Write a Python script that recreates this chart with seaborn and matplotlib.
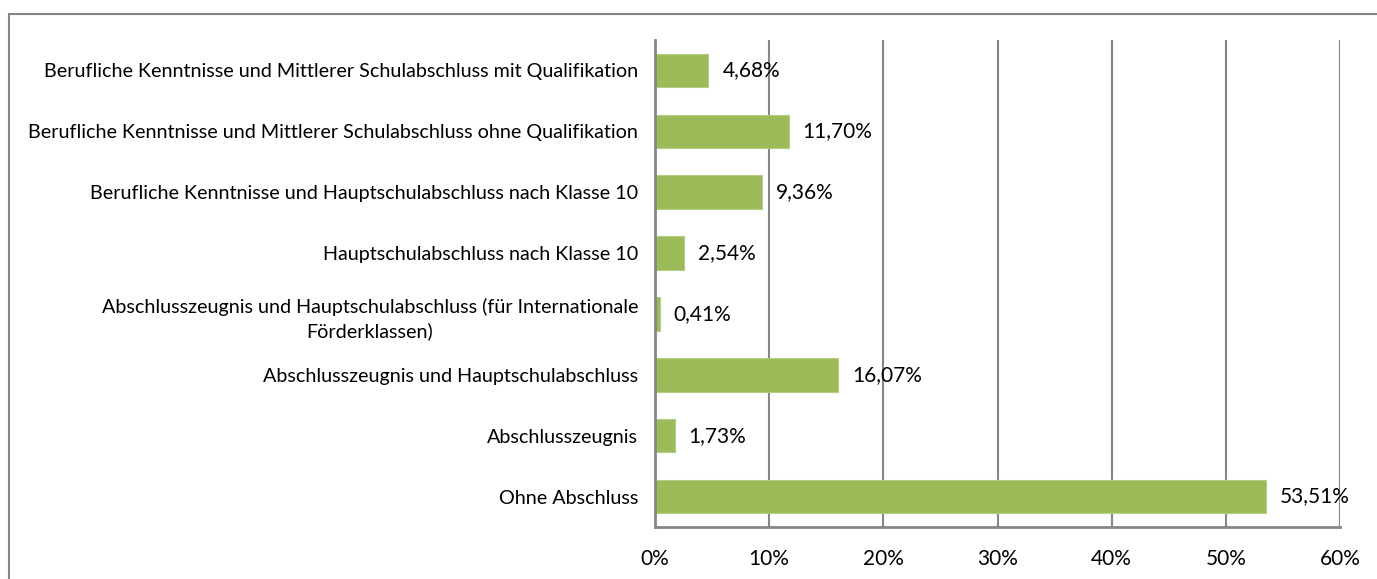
import numpy as np
import pandas as pd
import seaborn as sns
import matplotlib.pyplot as plt
from matplotlib.patches import Rectangle
from matplotlib.ticker import MultipleLocator, FixedLocator, PercentFormatter

categories = [
    "Berufliche Kenntnisse und Mittlerer Schulabschluss mit Qualifikation",
    "Berufliche Kenntnisse und Mittlerer Schulabschluss ohne Qualifikation",
    "Berufliche Kenntnisse und Hauptschulabschluss nach Klasse 10",
    "Hauptschulabschluss nach Klasse 10",
    "Abschlusszeugnis und Hauptschulabschluss (für Internationale\nFörderklassen)",
    "Abschlusszeugnis und Hauptschulabschluss",
    "Abschlusszeugnis",
    "Ohne Abschluss",
]
values = [4.68, 11.70, 9.36, 2.54, 0.41, 16.07, 1.73, 53.51]

W, H = 1377, 579
sns.set_style("white")
plt.rcParams['font.family'] = ['Lato', 'DejaVu Sans']

df = pd.DataFrame({"cat": categories, "val": values})

fig = plt.figure(figsize=(W / 100, H / 100), dpi=100)
ax = fig.add_axes([655 / W, 52 / H, (1340 - 655) / W, (527 - 40) / H])

sns.barplot(data=df, x="val", y="cat", orient="h", color="#9BBB59",
            saturation=1, width=0.55, ax=ax, edgecolor="#B5CE86", linewidth=0.8)

gray = "#868686"
ax.set_xlim(0, 60)
ax.set_ylim(len(categories) - 0.5, -0.5)
ax.xaxis.set_major_locator(MultipleLocator(10))
ax.xaxis.set_major_formatter(PercentFormatter(decimals=0))
ax.grid(axis="x", color=gray, linewidth=1.5)
ax.set_axisbelow(True)
ax.set_xlabel("")
ax.set_ylabel("")

for s in ["top", "right"]:
    ax.spines[s].set_visible(False)
for s in ["left", "bottom"]:
    ax.spines[s].set_color(gray)
    ax.spines[s].set_linewidth(2)

ax.tick_params(axis="x", length=5, width=1.5, color=gray, pad=11,
               labelsize=15, labelcolor="black")
ax.tick_params(axis="y", which="major", length=0, pad=12,
               labelsize=14.2, labelcolor="black")
ax.yaxis.set_minor_locator(FixedLocator(np.arange(-0.5, len(categories), 1.0)))
ax.tick_params(axis="y", which="minor", length=5, width=1.5, color=gray)
for lbl in ax.get_yticklabels():
    lbl.set_multialignment("center")
    lbl.set_linespacing(1.45)

for i, v in enumerate(values):
    ax.annotate(f"{v:.2f}%".replace(".", ","), xy=(v, i), xytext=(10, 0),
                textcoords="offset points", va="center", ha="left",
                fontsize=15, color="black")

fig.add_artist(Rectangle((9 / W, -0.1), 2, 1.1 - 14 / H, transform=fig.transFigure,
                         fill=False, edgecolor=gray, linewidth=1.5))

fig.savefig("out.png", dpi=100)
